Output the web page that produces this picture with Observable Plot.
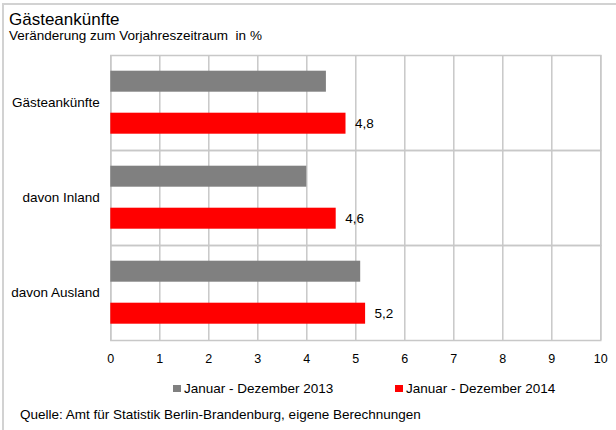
<!DOCTYPE html>
<html>
<head>
<meta charset="utf-8">
<script src="https://cdn.jsdelivr.net/npm/d3@7"></script>
<script src="https://cdn.jsdelivr.net/npm/@observablehq/plot@0.6"></script>
<style>
  html, body { margin: 0; padding: 0; background: #fff; }
  body { font-family: "Liberation Sans", Arial, sans-serif; color: #000; }
  #wrap { position: relative; width: 616px; height: 430px; overflow: hidden; }
  .frame { position: absolute; left: 2px; top: 3px; width: 700px; height: 500px;
           border-top: 2px solid #d2d2d2; border-left: 2px solid #d2d2d2; }
  .t { position: absolute; line-height: 1; white-space: pre; }
  #chart { position: absolute; left: 0; top: 44px; }
  .sw { position: absolute; width: 8px; height: 7px; }
</style>
</head>
<body>
<div id="wrap">
  <div class="frame"></div>
  <div class="t" id="title" style="left:9px; top:11.2px; font-size:17px;"></div>
  <div class="t" id="subtitle" style="left:9px; top:29px; font-size:13.5px;"></div>
  <div id="chart"></div>
  <div id="legend"></div>
  <div class="t" id="caption" style="left:20px; top:407.9px; font-size:13.5px;"></div>
</div>
<script>
const titleText = "Gästeankünfte";
const subtitleText = "Veränderung zum Vorjahreszeitraum  in %";
const captionText = "Quelle: Amt für Statistik Berlin-Brandenburg, eigene Berechnungen";

const categories = ["Gästeankünfte", "davon Inland", "davon Ausland"];
const series = ["Januar - Dezember 2013", "Januar - Dezember 2014"];
const values2013 = [4.4, 4.0, 5.1];
const values2014 = [4.8, 4.6, 5.2];
const seriesColors = ["#808080", "#ff0000"];
const xTicks = [0, 1, 2, 3, 4, 5, 6, 7, 8, 9, 10];

document.getElementById("title").textContent = titleText;
document.getElementById("subtitle").textContent = subtitleText;
document.getElementById("caption").textContent = captionText;

const data = [];
categories.forEach((c, i) => {
  data.push({category: c, series: series[0], value: values2013[i]});
  data.push({category: c, series: series[1], value: values2014[i]});
});

const fmt = v => d3.format(".1f")(v).replace(".", ",");
const gridColor = "#c8c8c8";

const chart = Plot.plot({
  width: 616,
  height: 326,
  marginTop: 10.3,
  marginBottom: 29,
  marginLeft: 110.3,
  marginRight: 15.7,
  style: { fontFamily: "Liberation Sans, Arial, sans-serif", fontSize: "13.5px", color: "#000", background: "transparent" },
  x: { domain: [0, 10], axis: null },
  y: { domain: series, axis: null, paddingInner: 0.5, paddingOuter: 0.37 },
  fy: { domain: categories, padding: 0, axis: null, label: null },
  color: { domain: series, range: seriesColors },
  marks: [
    Plot.gridX(xTicks, { stroke: gridColor, strokeOpacity: 1, strokeWidth: 1.5 }),
    Plot.frame({ stroke: gridColor, strokeWidth: 1.5 }),
    Plot.barX(data, { x: "value", y: "series", fy: "category", fill: "series" }),
    Plot.text(data.filter(d => d.series === series[1]), {
      x: "value", y: "series", fy: "category", text: d => fmt(d.value),
      textAnchor: "start", dx: 9, fontSize: 13.5, fill: "#000"
    }),
    Plot.axisX(xTicks, { tickSize: 0, tickPadding: 14, fontSize: 12.5, label: null, tickFormat: d => String(d) }),
    Plot.axisFy({ anchor: "left", tickSize: 0, tickPadding: 11, fontSize: 13.5, label: null })
  ]
});
document.getElementById("chart").appendChild(chart);

// legend
const legend = document.getElementById("legend");
const legendPos = [{sq: 173, tx: 184}, {sq: 395, tx: 406}];
series.forEach((s, i) => {
  const sw = document.createElement("div");
  sw.className = "sw";
  sw.style.left = legendPos[i].sq + "px";
  sw.style.top = "385px";
  sw.style.background = seriesColors[i];
  legend.appendChild(sw);
  const t = document.createElement("div");
  t.className = "t";
  t.style.left = legendPos[i].tx + "px";
  t.style.top = "381.9px";
  t.style.fontSize = "13.5px";
  t.textContent = s;
  legend.appendChild(t);
});
</script>
</body>
</html>
